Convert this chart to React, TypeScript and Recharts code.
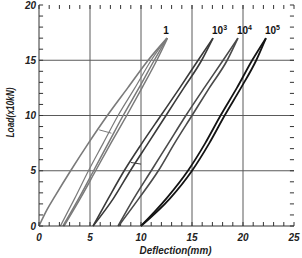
import { LineChart, Line, XAxis, YAxis, ReferenceLine, ReferenceDot } from 'recharts'

// load levels (x10kN) at which the branches were read
const LOADS = [0, 2.5, 5, 7.5, 10, 12.5, 15, 17]
const FIRST_LOADS = [0, 1.5, 2.75, 5, 7.5, 10, 12.5, 15, 17]

// deflection (mm) per branch
const c1Load = [0, 0.8, 1.6, 3.1, 4.85, 6.7, 8.7, 10.7, 12.55]
const c1Unload = [2.1, 3.5, 4.85, 6.3, 7.75, 9.4, 11.0, 12.55]
const c1Reload = [2.35, 3.9, 5.35, 6.8, 8.25, 9.8, 11.3, 12.55]
const c1Unload2 = [2.45, 4.05, 5.55, 7.05, 8.6, 10.1, 11.55, 12.6]
const c3Left = [5.3, 6.8, 8.35, 10.1, 11.95, 13.8, 15.6, 17.06]
const c3Right = [5.3, 7.3, 8.95, 10.7, 12.45, 14.2, 15.95, 17.06]
const c4Left = [7.75, 9.3, 11.0, 12.7, 14.4, 16.2, 18.05, 19.5]
const c4Right = [7.8, 9.8, 11.7, 13.3, 15.0, 16.7, 18.45, 19.5]
const c5Left = [10.0, 12.5, 14.6, 16.3, 17.8, 19.4, 20.9, 22.25]
const c5Right = [10.0, 12.85, 15.0, 16.7, 18.2, 19.8, 21.3, 22.25]

// short marks between branches
const mark1X = [5.9, 7.1]
const mark1Y = [8.7, 8.4]
const mark3X = [9.0, 10.0]
const mark3Y = [5.75, 5.6]

const peakX = [12.55, 17.06, 19.5, 22.25]
const peakY = [17, 17, 17, 17]
const cycleBase = ['1', '10', '10', '10']
const cycleExp = ['', '3', '4', '5']

const X_MINOR = [0, 1, 2, 3, 4, 5, 6, 7, 8, 9, 10, 11, 12, 13, 14, 15, 16, 17, 18, 19, 20, 21, 22, 23, 24, 25]
const Y_MINOR = [0, 1, 2, 3, 4, 5, 6, 7, 8, 9, 10, 11, 12, 13, 14, 15, 16, 17, 18, 19, 20]
const X_MAJOR = [0, 5, 10, 15, 20, 25]
const Y_MAJOR = [0, 5, 10, 15, 20]
const X_GRID = [5, 10, 15, 20]
const Y_GRID = [5, 10, 15]
const X_MAX = 25
const Y_MAX = 20
// inward tick length in data units (about 4px)
const TICK_DX = 0.4
const TICK_DY = 0.36

const FONT = '"Liberation Sans", Arial, sans-serif'
const FRAME = '#333'
const GRID = '#5a5a5a'
const GRAY = '#7a7a7a'
const DARK = '#3a3a3a'
const DARK2 = '#4a4a4a'
const BLACK = '#141414'

const pts = (xs: number[], ys: number[]) => xs.map((x, i) => ({ x, y: ys[i] }))

const series = [
  { key: 'c1-load', data: pts(c1Load, FIRST_LOADS), color: GRAY, w: 1.6 },
  { key: 'c1-unload', data: pts(c1Unload, LOADS), color: GRAY, w: 1.2 },
  { key: 'c1-reload', data: pts(c1Reload, LOADS), color: GRAY, w: 1.5 },
  { key: 'c1-unload2', data: pts(c1Unload2, LOADS), color: GRAY, w: 1.5 },
  { key: 'c1-mark', data: pts(mark1X, mark1Y), color: GRAY, w: 1 },
  { key: 'c3-left', data: pts(c3Left, LOADS), color: DARK, w: 1.6 },
  { key: 'c3-right', data: pts(c3Right, LOADS), color: DARK, w: 1.6 },
  { key: 'c3-mark', data: pts(mark3X, mark3Y), color: DARK, w: 1 },
  { key: 'c4-left', data: pts(c4Left, LOADS), color: DARK2, w: 1.6 },
  { key: 'c4-right', data: pts(c4Right, LOADS), color: DARK2, w: 1.6 },
  { key: 'c5-left', data: pts(c5Left, LOADS), color: BLACK, w: 1.8 },
  { key: 'c5-right', data: pts(c5Right, LOADS), color: BLACK, w: 1.8 },
]

const tickText = { fontFamily: FONT, fontSize: 10, fontWeight: 'bold', fontStyle: 'italic', fill: '#222' } as const

function BottomTick({ x, y, payload }: any) {
  if (!X_MAJOR.includes(payload.value)) return <g />
  return <text x={x} y={y + 15} textAnchor="middle" {...tickText}>{payload.value}</text>
}

function LeftTick({ x, y, payload }: any) {
  if (!Y_MAJOR.includes(payload.value)) return <g />
  return <text x={x - 3} y={y + 3.6} textAnchor="end" {...tickText}>{payload.value}</text>
}

function CycleLabel({ viewBox, i }: any) {
  const cx = viewBox.x + viewBox.width / 2
  const cy = viewBox.y + viewBox.height / 2
  if (!cycleExp[i]) {
    return <text x={cx - 1} y={cy - 4} textAnchor="middle" fontFamily={FONT} fontSize={10} fontWeight="bold" fill="#111">{cycleBase[i]}</text>
  }
  return (
    <text x={cx - 1} y={cy - 4} textAnchor="start" fontFamily={FONT} fontSize={10} fontWeight="bold" fill="#111">
      {cycleBase[i]}
      <tspan dy={-4} fontSize={7}>{cycleExp[i]}</tspan>
    </text>
  )
}

export default function App() {
  return (
    <div style={{ position: 'absolute', left: 0, top: 0, background: '#fff' }}>
      <LineChart width={302} height={258} margin={{ top: 5, right: 8, bottom: 0, left: 0 }}>
        <XAxis
          dataKey="x" type="number" domain={[0, X_MAX]} ticks={X_MINOR} interval={0}
          height={32} tickSize={0} tickMargin={0} tickLine={false}
          axisLine={{ stroke: FRAME }} tick={<BottomTick />}
          label={{
            content: ({ viewBox }: any) => (
              <text
                x={viewBox.x + viewBox.width / 2 + 9} y={viewBox.y + 27.5} textAnchor="middle"
                textLength={72} lengthAdjust="spacingAndGlyphs" {...tickText}
              >
                Deflection(mm)
              </text>
            ),
          }}
        />
        <XAxis
          xAxisId="top" orientation="top" dataKey="x" type="number" domain={[0, X_MAX]} ticks={X_MAJOR}
          height={0} tick={false} tickLine={false} axisLine={{ stroke: FRAME }}
        />
        <YAxis
          type="number" domain={[0, Y_MAX]} ticks={Y_MINOR} interval={0}
          width={39} tickSize={0} tickMargin={0} tickLine={false}
          axisLine={{ stroke: FRAME }} tick={<LeftTick />}
          label={{
            content: ({ viewBox }: any) => {
              const lx = viewBox.x + 14
              const ly = viewBox.y + viewBox.height / 2 - 3
              return (
                <text
                  x={lx} y={ly} textAnchor="middle" transform={`rotate(-90 ${lx} ${ly})`}
                  textLength={50} lengthAdjust="spacingAndGlyphs" {...tickText}
                >
                  Load(x10kN)
                </text>
              )
            },
          }}
        />
        <YAxis
          yAxisId="right" orientation="right" type="number" domain={[0, Y_MAX]} ticks={Y_MAJOR}
          width={0} tick={false} tickLine={false} axisLine={{ stroke: FRAME }}
        />
        {X_GRID.map((v) => (
          <ReferenceLine key={'gx' + v} x={v} stroke={GRID} />
        ))}
        {Y_GRID.map((v) => (
          <ReferenceLine key={'gy' + v} y={v} stroke={GRID} />
        ))}
        {X_MINOR.map((v) => (
          <ReferenceLine key={'tb' + v} segment={[{ x: v, y: 0 }, { x: v, y: TICK_DY }]} stroke={FRAME} />
        ))}
        {X_MINOR.map((v) => (
          <ReferenceLine key={'tt' + v} segment={[{ x: v, y: Y_MAX }, { x: v, y: Y_MAX - TICK_DY }]} stroke={FRAME} />
        ))}
        {Y_MINOR.map((v) => (
          <ReferenceLine key={'tl' + v} segment={[{ x: 0, y: v }, { x: TICK_DX, y: v }]} stroke={FRAME} />
        ))}
        {Y_MINOR.map((v) => (
          <ReferenceLine key={'tr' + v} segment={[{ x: X_MAX, y: v }, { x: X_MAX - TICK_DX, y: v }]} stroke={FRAME} />
        ))}
        {series.map((s) => (
          <Line
            key={s.key} data={s.data} dataKey="y" type="monotone" stroke={s.color} strokeWidth={s.w}
            dot={false} activeDot={false} isAnimationActive={false}
          />
        ))}
        {peakX.map((px, i) => (
          <ReferenceDot
            key={'pk' + i} x={px} y={peakY[i]} r={0} fill="none" stroke="none"
            label={{ content: (p: any) => <CycleLabel {...p} i={i} /> }}
          />
        ))}
      </LineChart>
    </div>
  )
}
